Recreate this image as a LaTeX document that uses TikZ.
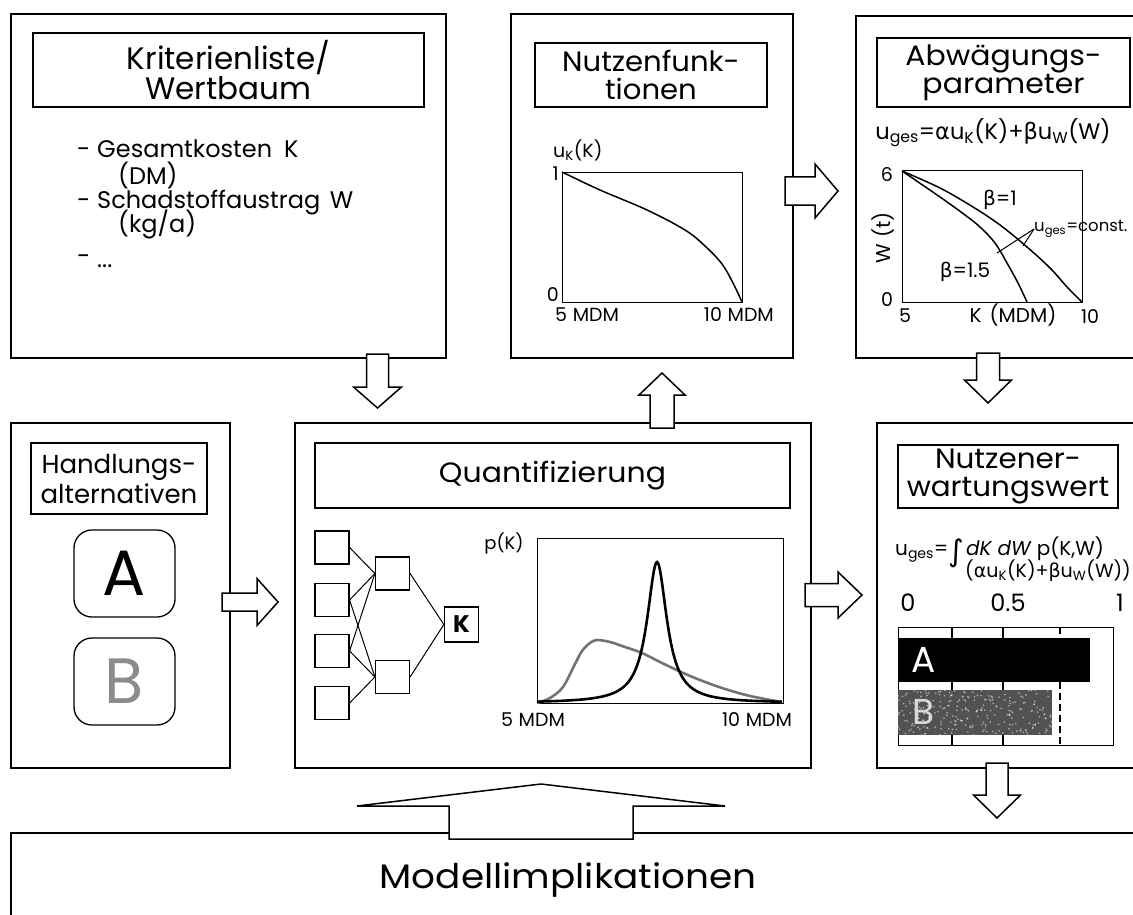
\documentclass[tikz,border=0pt]{standalone}
\usepackage{graphicx}
\usepackage{fontspec}
\setmainfont{Poppins}
\newfontfamily\grk{DejaVu Sans}
\newcommand\fs[1]{\fontsize{#1}{#1}\selectfont}
\newcommand\sbs[1]{\textsubscript{#1}}
\newcommand\hx[2]{\scalebox{#1}[1]{#2}}
% block arrow: start coordinate, angle, length, shaft half width, head half width, head length
\newcommand\barr[6]{\draw[blk, shift={(#1)}, rotate=#2] (0,-#4) -- ({#3-#6},-#4) -- ({#3-#6},-#5) -- (#3,0) -- ({#3-#6},#5) -- ({#3-#6},#4) -- (0,#4) -- cycle;}
\begin{document}
\begin{tikzpicture}[x=1pt,y=-1pt,
  frame/.style={draw, line width=1.6pt, fill=white, anchor=north west, inner sep=0pt},
  tbox/.style={draw, line width=1.4pt, inner sep=0pt, align=center},
  blk/.style={draw, line width=1.5pt, fill=white, line join=miter},
  lbl/.style={inner sep=0pt},
  plotbox/.style={draw, line width=1.3pt, anchor=north west, inner sep=0pt},
  netbox/.style={draw, line width=1.2pt, minimum width=34pt, minimum height=33pt, inner sep=0pt},
  curve/.style={line width=1.5pt},
  altbox/.style={draw, line width=1.3pt, rounded corners=18pt, minimum width=101pt, minimum height=87pt, inner sep=0pt},
]
\useasboundingbox (0,0) rectangle (1133,915);
% ---------- frames
\node[frame, minimum width=435, minimum height=344] (krit) at (10,13) {};
\node[frame, minimum width=282, minimum height=344] (nutz) at (510,13) {};
\node[frame, minimum width=295, minimum height=342] (abw) at (855,15) {};
\node[frame, minimum width=219, minimum height=345] (hand) at (10,422) {};
\node[frame, minimum width=516, minimum height=345] (quant) at (294,422) {};
\node[frame, minimum width=274, minimum height=345] (nerw) at (876,422) {};
\node[frame, minimum width=1140, minimum height=98] (modell) at (10,832) {};
% ---------- block arrows
\coordinate (a1) at (377.5,354);
\coordinate (a2) at (662,428);
\coordinate (a3) at (785,191);
\coordinate (a4) at (988,353);
\coordinate (a5) at (222,602);
\coordinate (a6) at (805,595);
\coordinate (a7) at (997,763);
\coordinate (a8) at (541,839);
\barr{a1}{-90}{54}{11}{24}{21}
\barr{a2}{90}{55}{12}{23}{22}
\barr{a3}{0}{53}{14}{27}{23}
\barr{a4}{-90}{50}{11.5}{23.5}{23}
\barr{a5}{0}{56}{9}{23.5}{21}
\barr{a6}{0}{57}{11.5}{23}{24}
\barr{a7}{-90}{55}{11}{23.5}{23}
\barr{a8}{90}{55}{92}{184}{22}
% ---------- Kriterienliste
\node[tbox, minimum width=391, minimum height=74, font={\fontsize{31}{30}\selectfont}] (kritT) at (228.5,70) {Kriterienliste/\\Wertbaum};
\node[lbl, anchor=base west, font=\fs{24}] (d1) at (77,158) {-};
\node[lbl, anchor=base west, font=\fs{24}] (g1) at (97,158) {Gesamtkosten\hspace{0.5em}K};
\node[lbl, anchor=base west, font=\fs{24}] (g2) at (118,185) {(DM)};
\node[lbl, anchor=base west, font=\fs{24}] (d2) at (77,208) {-};
\node[lbl, anchor=base west, font=\fs{24}] (s1) at (97,208) {Schadstoffaustrag\hspace{0.4em}W};
\node[lbl, anchor=base west, font=\fs{24}] (s2) at (118,233) {(kg/a)};
\node[lbl, anchor=base west, font=\fs{24}] (d3) at (77,264) {-};
\node[lbl, anchor=base west, font=\fs{24}] (s3) at (97,267) {...};
% ---------- Nutzenfunktionen
\node[tbox, minimum width=232, minimum height=64, font={\fontsize{28}{28}\selectfont}] (nutzT) at (651,75) {\hx{1.04}{Nutzenfunk-}\\\hx{1.04}{tionen}};
\node[plotbox, minimum width=180, minimum height=130] (uplot) at (562,172) {};
\draw[curve] plot[smooth, tension=0.6] coordinates {(562,172) (600,190) (647,210) (685,230) (705,246) (722,264) (733,283) (742,302)};
\node[lbl, anchor=west, font=\fs{19}] (uk) at (553,150) {u\sbs{K}(K)};
\node[lbl, anchor=east, font=\fs{19}] (u1) at (559,174) {1};
\node[lbl, anchor=east, font=\fs{19}] (u0) at (559,295) {0};
\node[lbl, anchor=west, font=\fs{19}] (u5) at (555,315) {5\hspace{0.3em}MDM};
\node[lbl, anchor=east, font=\fs{19}] (u10) at (774,315) {10\hspace{0.3em}MDM};
% ---------- Abwaegungsparameter
\node[tbox, minimum width=253, minimum height=69, font={\fontsize{28}{25}\selectfont}] (abwT) at (1003.5,72.5) {\hx{1.07}{Abwägungs-}\\\hx{1.07}{parameter}};
\node[lbl, font=\fs{22.5}] (frm) at (993,133) {u\sbs{ges}={\grk α}u\sbs{K}(K)+{\grk β}u\sbs{W}(W)};
\node[plotbox, minimum width=180, minimum height=132] (wplot) at (902,170) {};
\draw[curve] plot[smooth, tension=0.6] coordinates {(902,171) (940,188) (973,207) (1000,225) (1027,247) (1050,268) (1068,288) (1082,302)};
\draw[curve] plot[smooth, tension=0.6] coordinates {(902,171) (940,197) (965,215) (980,227) (995,243) (1007,263) (1018,283) (1027,302)};
\node[lbl, font=\fs{20}] (b1) at (1000,200) {{\grk β}=1};
\node[lbl, font=\fs{20}] (b15) at (965,272) {{\grk β}=1.5};
\node[lbl, anchor=west, font=\fs{16.5}] (uc) at (1034,229) {u\sbs{ges}=const.};
\coordinate (v1) at (997,253);
\coordinate (v2) at (1023,246);
\draw[line width=1pt] (uc.west) -- (v1);
\draw[line width=1pt] (uc.west) -- (v2);
\node[lbl, font=\fs{19}] (w6) at (887,175) {6};
\node[lbl, font=\fs{19}] (w0) at (887,300) {0};
\node[lbl, rotate=90, font=\fs{20}] (wt) at (883,238) {W\hspace{0.3em}(t)};
\node[lbl, font=\fs{19}] (k5) at (905,316) {5};
\node[lbl, font=\fs{20}] (kmdm) at (1013,315) {K\hspace{0.4em}(MDM)};
\node[lbl, font=\fs{19}] (k10) at (1090,317) {10};
% ---------- Handlungsalternativen
\node[tbox, minimum width=176, minimum height=71, font={\fontsize{26}{30}\selectfont}] (handT) at (119,478.5) {Handlungs-\\alternativen};
\node[altbox, font=\fs{64}] (altA) at (124.5,573.5) {A};
\node[altbox, font=\fs{64}, text=black!45] (altB) at (124.5,681.5) {B};
% ---------- Quantifizierung
\node[tbox, minimum width=475, minimum height=65, font=\fs{28}] (quantT) at (552.5,475.5) {\hx{1.07}{Quantifizierung}};
\node[netbox] (n1) at (332,547.5) {};
\node[netbox] (n2) at (332,600) {};
\node[netbox] (n3) at (332,651) {};
\node[netbox] (n4) at (332,703) {};
\node[netbox] (m1) at (392.5,573.5) {};
\node[netbox] (m2) at (392.5,677) {};
\node[netbox, minimum height=35pt, line width=1.5pt, font=\bfseries\fs{24}] (kk) at (461.6,624.5) {K};
\draw[line width=1pt] (n1.east) -- (m1.west);
\draw[line width=1pt] (n2.east) -- (m1.west);
\draw[line width=1pt] (n2.east) -- (m2.west);
\draw[line width=1pt] (n3.east) -- (m1.west);
\draw[line width=1pt] (n3.east) -- (m2.west);
\draw[line width=1pt] (n4.east) -- (m2.west);
\draw[line width=1pt] (m1.east) -- (kk.west);
\draw[line width=1pt] (m2.east) -- (kk.west);
\node[plotbox, minimum width=246.5, minimum height=165] (pplot) at (536.5,538) {};
\draw[line width=2.6pt, black!55] plot[smooth, tension=0.55] coordinates {(537,703) (550,698) (563,687) (575,664) (582,651) (590,643) (597,640) (610,642) (625,647) (642,653) (660,662) (681,672) (700,680) (722,688) (750,696) (782,702)};
\draw[line width=2.6pt, domain=537:782, samples=250] plot (\x, {703-141/(1+((\x-657)/12)^2)});
\node[lbl, font=\fs{18}] (pk) at (504,543) {p(K)};
\node[lbl, font=\fs{19}] (p5) at (533,720) {5\hspace{0.3em}MDM};
\node[lbl, font=\fs{19}] (p10) at (757,720) {10\hspace{0.3em}MDM};
% ---------- Nutzenerwartungswert
\node[tbox, minimum width=220, minimum height=63, font={\fontsize{28}{28}\selectfont}] (nerwT) at (1008,476.5) {\hx{1.05}{Nutzener-}\\\hx{1.05}{wartungswert}};
\node[lbl, anchor=base west, font=\fs{20}] (f1) at (895,555) {u\sbs{ges}=\raisebox{-0.32em}{\grk\fs{30}∫}\hspace{0.1em}\textit{dK dW} p(K,W)};
\node[lbl, anchor=base east, font=\fs{19}] (f2) at (1131,577) {({\grk α}u\sbs{K}(K)+{\grk β}u\sbs{W}(W))};
\node[lbl, font=\fs{24}] (x0) at (908,603) {0};
\node[lbl, font=\fs{24}] (x05) at (1008,603) {0.5};
\node[lbl, font=\fs{24}] (x1) at (1120,603) {1};
\node[plotbox, minimum width=215, minimum height=118] (bars) at (898,627) {};
\draw[line width=1.2pt] (952,627) -- (952,745);
\draw[line width=1.2pt] (1003,627) -- (1003,745);
\draw[line width=1.4pt, dash pattern=on 7pt off 4pt] (1060,627) -- (1060,745);
\fill[black] (898,638) rectangle (1090,682);
\fill[black!68] (898,690) rectangle (1052,735);
\pgfmathsetseed{7}
\foreach \i in {1,...,260} {\fill[white, opacity=0.55] ({898+154*rnd},{690+45*rnd}) circle (0.9);}
\node[lbl, text=white, font=\fs{36}] (barA) at (924,660) {A};
\node[lbl, text=white!85!black, font=\fs{36}] (barB) at (924,712) {B};
% ---------- Modellimplikationen
\node[lbl, font=\fs{34}] (mt) at (568,880) {\hx{1.1}{Modellimplikationen}};
\end{tikzpicture}
\end{document}
